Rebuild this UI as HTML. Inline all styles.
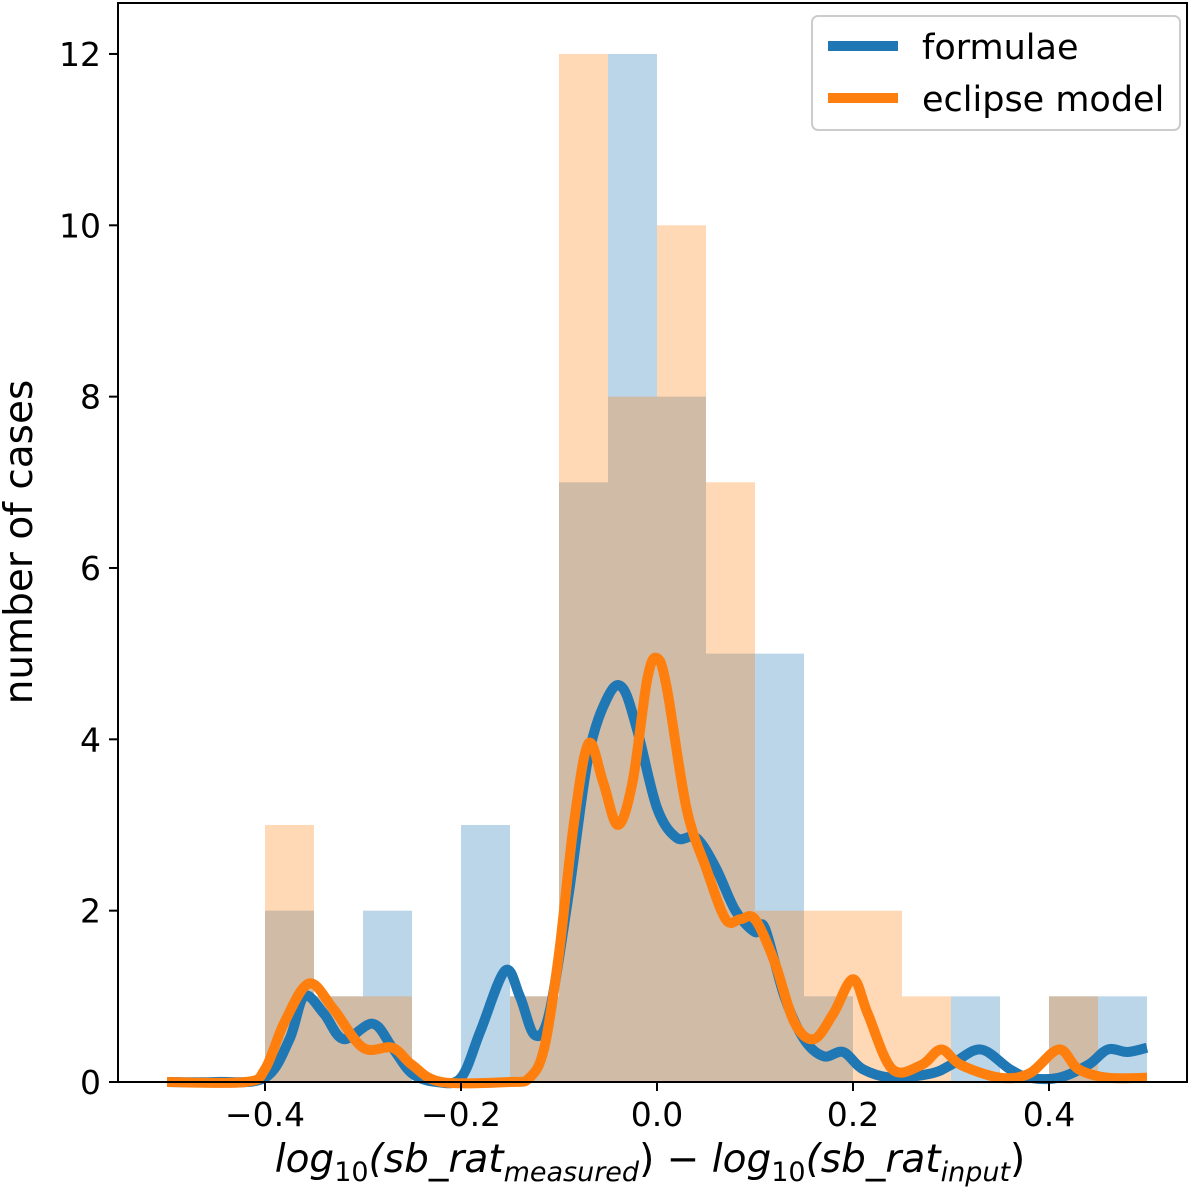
<!DOCTYPE html>
<html><head><meta charset="utf-8"><style>
body{margin:0;background:#fff}
svg{display:block;font-family:"DejaVu Sans","Liberation Sans",sans-serif}
</style></head><body>
<svg id="chart" width="1200" height="1193">
<g id="bars"></g>
<g id="lines"></g>
<g id="axes"></g>
<g>
<rect x="812" y="16" width="368" height="114" rx="6" fill="#fff" fill-opacity="0.8" stroke="#ccc" stroke-width="2"/>
<line x1="828" y1="46" x2="898" y2="46" stroke="#1f77b4" stroke-width="10"/>
<text x="922" y="59" font-size="35">formulae</text>
<line x1="828" y1="98" x2="898" y2="98" stroke="#ff7f0e" stroke-width="10"/>
<text x="922" y="111" font-size="35">eclipse model</text>
</g>
<text transform="translate(32,542) rotate(-90)" text-anchor="middle" font-size="39">number of cases</text>
<text x="650" y="1172" text-anchor="middle" font-size="39" font-style="italic">log<tspan font-size="27" dy="9" font-style="normal">10</tspan><tspan dy="-9">(sb_rat</tspan><tspan font-size="27" dy="9">measured</tspan><tspan dy="-9" font-style="normal">) − </tspan>log<tspan font-size="27" dy="9" font-style="normal">10</tspan><tspan dy="-9">(sb_rat</tspan><tspan font-size="27" dy="9">input</tspan><tspan dy="-9" font-style="normal">)</tspan></text>
</svg>
<script>
const binEdgesStart = -0.4, binWidth = 0.05;
const formulaeCounts = [2,1,2,0,3,1,7,12,8,5,5,1,0,0,1,0,1,1];
const eclipseCounts  = [3,1,1,0,0,1,12,8,10,7,2,2,2,1,0,0,1,0];
const xTicks = [-0.4,-0.2,0.0,0.2,0.4];
const xTickLabels = ["−0.4","−0.2","0.0","0.2","0.4"];
const yTicks = [0,2,4,6,8,10,12];
const formulaeKdeX = [-0.5,-0.45,-0.4,-0.375,-0.36,-0.34,-0.32,-0.29,-0.27,-0.25,-0.225,-0.2,-0.18,-0.155,-0.14,-0.125,-0.11,-0.09,-0.07,-0.05,-0.035,-0.02,0,0.02,0.04,0.06,0.08,0.1,0.11,0.13,0.15,0.17,0.19,0.21,0.24,0.28,0.3,0.33,0.36,0.38,0.41,0.44,0.46,0.48,0.5];
const formulaeKdeY = [0,0,0.05,0.5,1.0,0.8,0.5,0.68,0.4,0.1,0,0.05,0.6,1.3,1.0,0.55,0.8,2.2,3.8,4.5,4.6,4.1,3.2,2.85,2.85,2.5,2.0,1.75,1.8,1.0,0.5,0.3,0.35,0.15,0.05,0.1,0.2,0.38,0.15,0.05,0.05,0.2,0.38,0.35,0.4];
const eclipseKdeX = [-0.5,-0.42,-0.4,-0.38,-0.355,-0.33,-0.3,-0.27,-0.25,-0.22,-0.15,-0.13,-0.115,-0.1,-0.085,-0.07,-0.055,-0.04,-0.025,-0.01,0,0.01,0.03,0.05,0.07,0.085,0.1,0.12,0.14,0.16,0.18,0.2,0.215,0.24,0.27,0.29,0.31,0.35,0.38,0.41,0.43,0.46,0.5];
const eclipseKdeY = [0,0,0.15,0.7,1.15,0.85,0.4,0.4,0.2,0,0,0.05,0.4,1.5,3.0,3.95,3.5,3.0,3.5,4.7,4.95,4.6,3.2,2.5,1.9,1.9,1.9,1.4,0.7,0.5,0.8,1.2,0.8,0.15,0.2,0.38,0.2,0.05,0.1,0.38,0.15,0.05,0.05];

const L=118,R=1187,T=3,B=1082;
const xs=v=>657+v*980;
const ys=v=>1082-v*85.67;
const NS="http://www.w3.org/2000/svg";
function mk(tag,attrs,parent){const e=document.createElementNS(NS,tag);for(const k in attrs)e.setAttribute(k,attrs[k]);parent.appendChild(e);return e;}
const bars=document.getElementById('bars');
function drawHist(counts,color,name){
  counts.forEach((c,i)=>{
    if(!c)return;
    const x0=xs(binEdgesStart+i*binWidth),x1=xs(binEdgesStart+(i+1)*binWidth);
    const r=mk('rect',{x:x0,y:ys(c),width:x1-x0,height:ys(0)-ys(c),fill:color,'fill-opacity':0.3},bars);
    
    
  });
}
drawHist(formulaeCounts,'#1f77b4','formulae');
drawHist(eclipseCounts,'#ff7f0e','eclipse');
const lines=document.getElementById('lines');
function smooth(X,Y){
  const p=X.map((x,i)=>[xs(x),ys(Y[i])]);
  let d='M'+p[0][0]+','+p[0][1];
  for(let i=0;i<p.length-1;i++){
    const p0=p[Math.max(0,i-1)],p1=p[i],p2=p[i+1],p3=p[Math.min(p.length-1,i+2)];
    d+=' C'+(p1[0]+(p2[0]-p0[0])/6)+','+(p1[1]+(p2[1]-p0[1])/6)+' '+(p2[0]-(p3[0]-p1[0])/6)+','+(p2[1]-(p3[1]-p1[1])/6)+' '+p2[0]+','+p2[1];
  }
  return d;
}
const lf=mk('path',{d:smooth(formulaeKdeX,formulaeKdeY),fill:'none',stroke:'#1f77b4','stroke-width':10,'stroke-linejoin':'round'},lines);


const le=mk('path',{d:smooth(eclipseKdeX,eclipseKdeY),fill:'none',stroke:'#ff7f0e','stroke-width':10,'stroke-linejoin':'round'},lines);


const axes=document.getElementById('axes');
const fr=mk('rect',{x:L,y:T,width:R-L,height:B-T,fill:'none',stroke:'#000','stroke-width':2},axes);


xTicks.forEach((v,i)=>{
  mk('line',{x1:xs(v),x2:xs(v),y1:B,y2:B+9,stroke:'#000','stroke-width':2},axes);
  const t=mk('text',{x:xs(v),y:B+44,'text-anchor':'middle','font-size':33},axes);
  t.textContent=xTickLabels[i];
  
  
});
yTicks.forEach(v=>{
  mk('line',{x1:L-9,x2:L,y1:ys(v),y2:ys(v),stroke:'#000','stroke-width':2},axes);
  const t=mk('text',{x:L-17,y:ys(v)+12,'text-anchor':'end','font-size':33},axes);
  t.textContent=String(v);
  
  
});
</script>
</body></html>
